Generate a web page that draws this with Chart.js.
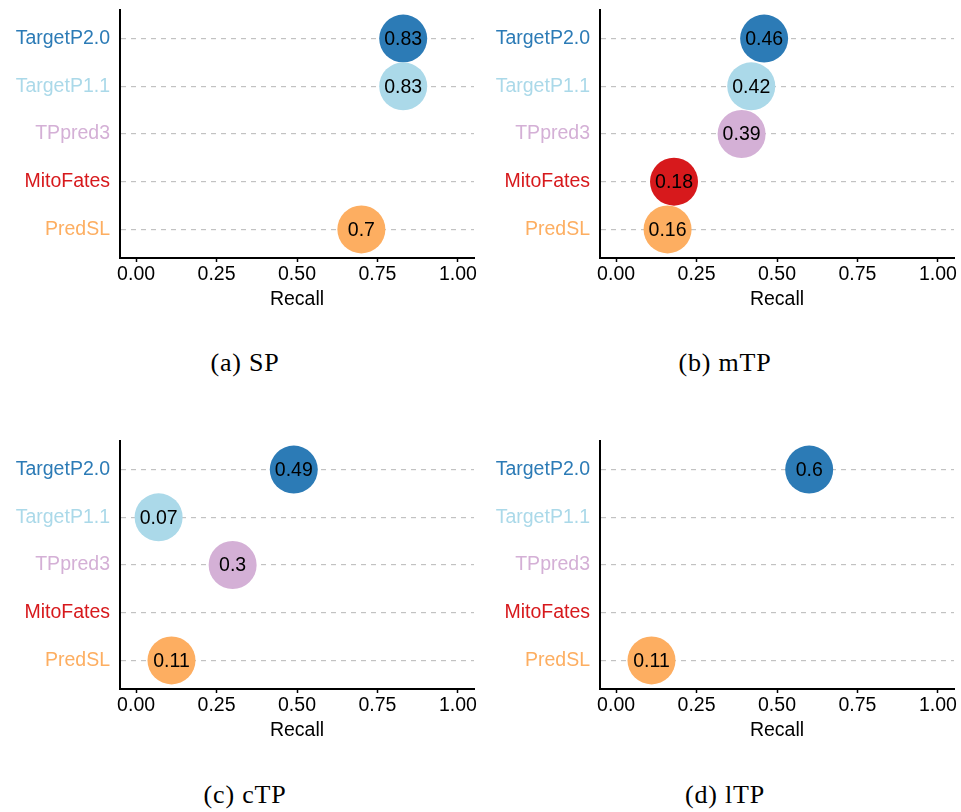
<!DOCTYPE html>
<html>
<head>
<meta charset="utf-8">
<script src="https://cdn.jsdelivr.net/npm/chart.js@4/dist/chart.umd.min.js"></script>
<style>
  html, body { margin: 0; padding: 0; background: #ffffff; }
  body { width: 961px; height: 812px; position: relative; overflow: hidden; }
  canvas { position: absolute; }
  .caption {
    position: absolute; width: 480px; text-align: center;
    font-family: "Liberation Serif", "DejaVu Serif", serif; font-size: 26px; color: #000;
    letter-spacing: 0.8px; line-height: 30px;
  }
</style>
</head>
<body>
<canvas id="pSP" width="480" height="320" style="left:0px;top:0px"></canvas>
<canvas id="pMTP" width="480" height="320" style="left:480px;top:0px"></canvas>
<canvas id="pCTP" width="480" height="320" style="left:0px;top:431px"></canvas>
<canvas id="pLTP" width="480" height="320" style="left:480px;top:431px"></canvas>
<div class="caption" id="capSP" style="left:5px;top:348px"></div>
<div class="caption" id="capMTP" style="left:485px;top:348px"></div>
<div class="caption" id="capCTP" style="left:5px;top:780px"></div>
<div class="caption" id="capLTP" style="left:485px;top:780px"></div>
<script>
// Prediction methods (top to bottom) and their colours
const methods = ['TargetP2.0', 'TargetP1.1', 'TPpred3', 'MitoFates', 'PredSL'];
const methodColors = ['#2c7bb6', '#abd9e9', '#d4b0d6', '#d7191c', '#fdae61'];

// Recall per method for each targeting signal (null = no prediction)
const recallSP  = [0.83, 0.83, null, null, 0.7];
const recallMTP = [0.46, 0.42, 0.39, 0.18, 0.16];
const recallCTP = [0.49, 0.07, 0.3, null, 0.11];
const recallLTP = [0.6, null, null, null, 0.11];

// Recall axis ticks and panel captions
const recallTicks = [0, 0.25, 0.5, 0.75, 1];
const captions = ['(a) SP', '(b) mTP', '(c) cTP', '(d) lTP'];

const FONT = '"Liberation Sans", Arial, Helvetica, sans-serif';
const FS = 19.5;

// Writes each recall value in the middle of its circle
const valueLabels = {
  id: 'valueLabels',
  afterDatasetsDraw(chart) {
    const ctx = chart.ctx;
    const ds = chart.data.datasets[0];
    const meta = chart.getDatasetMeta(0);
    ctx.save();
    ctx.font = FS + 'px ' + FONT;
    ctx.fillStyle = '#000000';
    ctx.textAlign = 'center';
    ctx.textBaseline = 'middle';
    meta.data.forEach((el, i) => {
      ctx.fillText(String(ds.data[i].x), el.x, el.y + 1);
    });
    ctx.restore();
  }
};

// Axes keep a fixed size and no extra label overhang padding
function fixBox(s, size) {
  if (s.isHorizontal()) s.height = size; else s.width = size;
  s.paddingTop = 0; s.paddingBottom = 0; s.paddingLeft = 0; s.paddingRight = 0;
}

function makePanel(canvasId, values) {
  const points = [];
  values.forEach((v, i) => { if (v !== null) points.push({ x: v, y: i }); });
  return new Chart(document.getElementById(canvasId), {
    type: 'scatter',
    data: {
      datasets: [{
        data: points,
        pointRadius: 24,
        pointHoverRadius: 24,
        borderWidth: 0,
        backgroundColor: ctx => methodColors[ctx.raw.y],
        clip: false
      }]
    },
    options: {
      responsive: false,
      animation: false,
      devicePixelRatio: 1,
      layout: { autoPadding: false, padding: { top: 10, right: 6, left: 0, bottom: 0 } },
      plugins: { legend: { display: false }, tooltip: { enabled: false } },
      scales: {
        x: {
          type: 'linear',
          min: -0.05,
          max: 1.05,
          afterBuildTicks: s => { s.ticks = recallTicks.map(v => ({ value: v })); },
          afterFit: s => fixBox(s, 62),
          ticks: {
            color: '#000000',
            font: { family: FONT, size: FS },
            padding: 1,
            maxRotation: 0,
            callback: v => Number(v).toFixed(2)
          },
          grid: {
            display: true,
            drawOnChartArea: false,
            drawTicks: true,
            tickLength: 4,
            tickColor: '#000000',
            tickWidth: 1.5
          },
          border: { display: true, color: '#000000', width: 2 },
          title: {
            display: true,
            text: 'Recall',
            color: '#000000',
            font: { family: FONT, size: FS },
            padding: { top: 0, bottom: 9 }
          }
        },
        y: {
          type: 'linear',
          reverse: true,
          min: -0.6,
          max: methods.length - 0.4,
          afterBuildTicks: s => { s.ticks = methods.map((m, i) => ({ value: i })); },
          afterFit: s => fixBox(s, 120),
          ticks: {
            font: { family: FONT, size: FS },
            padding: 10,
            color: ctx => methodColors[ctx.tick ? ctx.tick.value : ctx.index],
            callback: v => methods[v]
          },
          grid: {
            display: true,
            drawTicks: false,
            color: '#c2c2c2',
            lineWidth: 1.2
          },
          border: { display: true, color: '#000000', width: 2, dash: [5, 5] }
        }
      }
    },
    plugins: [valueLabels]
  });
}

makePanel('pSP', recallSP);
makePanel('pMTP', recallMTP);
makePanel('pCTP', recallCTP);
makePanel('pLTP', recallLTP);

document.getElementById('capSP').textContent = captions[0];
document.getElementById('capMTP').textContent = captions[1];
document.getElementById('capCTP').textContent = captions[2];
document.getElementById('capLTP').textContent = captions[3];
</script>
</body>
</html>
